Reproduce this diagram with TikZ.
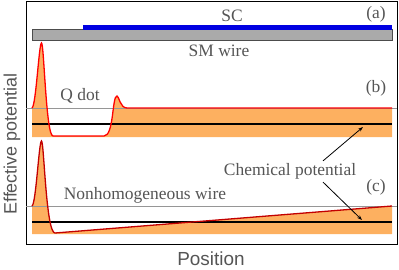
\documentclass[tikz,border=0pt]{standalone}
\usepackage{fontspec}
\setmainfont{Liberation Serif}
\setsansfont{Liberation Sans}
\usetikzlibrary{arrows.meta,positioning,calc}
\definecolor{cband}{RGB}{253,176,96}
\definecolor{csc}{RGB}{0,0,225}
\definecolor{cwire}{RGB}{170,170,170}
\definecolor{cpot}{RGB}{255,0,0}
\definecolor{cpotc}{RGB}{195,0,0}
\definecolor{ctext}{RGB}{85,85,85}
\definecolor{clevel}{RGB}{150,150,150}
% potential profiles, in pixel units
\newcommand{\qdotcurve}{(32,108) .. controls (36,106) and (39,43) .. (41.5,43)
  .. controls (44,43) and (46,136) .. (53,136) -- (104,136)
  .. controls (114,136) and (112,96) .. (117,96)
  .. controls (119,96) and (120,108) .. (127,108) -- (392,108)}
\newcommand{\inhomcurve}{(32,206) .. controls (36,204) and (39,141) .. (41.5,141)
  .. controls (44,141) and (46,233) .. (55,233) -- (392,206)}

\begin{document}
\begin{tikzpicture}[
  x=1bp,y=-1bp,
  >={Stealth[length=5pt,width=3.5pt]},
  lbl/.style={text=ctext,font=\fontsize{17.5}{20}\selectfont,inner sep=0pt},
  axlbl/.style={text=ctext,font=\sffamily\fontsize{19}{22}\selectfont,inner sep=0pt},
  level/.style={clevel,line width=0.8pt},
  mu/.style={black,line width=1.2pt},
  pot/.style={line width=1.3pt},
  arrow/.style={->,line width=0.8pt}
]
  \useasboundingbox (0,0) rectangle (399,270);
  \draw[line width=1pt] (26,1) rectangle (397,244);

  % (a) device
  \draw[fill=cwire,draw=black!70,line width=0.8pt] (32,29.5) rectangle (392,40);
  \fill[csc] (83,25) rectangle (392,29.5);
  \node[lbl] (sc) at (232,16) {SC};
  \node[lbl] (smwire) at (219,51) {SM wire};
  \node[lbl] (taga) at (376,14) {(a)};

  % (b) quantum dot
  \fill[cband] \qdotcurve -- (392,137) -- (32,137) -- cycle;
  \draw[level] (26,108) -- (397,108);
  \draw[mu] (32,124) -- (392,124);
  \draw[pot,cpot] \qdotcurve;
  \node[lbl] (qdot) at (80,96) {Q dot};
  \node[lbl] (tagb) at (376,88) {(b)};

  % (c) nonhomogeneous wire
  \fill[cband] \inhomcurve -- (392,234) -- (32,234) -- cycle;
  \draw[level] (26,206) -- (397,206);
  \draw[mu] (32,222) -- (392,222);
  \draw[pot,cpotc] \inhomcurve;
  \node[lbl] (inhom) at (145,195) {Nonhomogeneous wire};
  \node[lbl] (tagc) at (376,187) {(c)};

  % chemical potential
  \node[lbl] (chem) at (290,171) {Chemical potential};
  \coordinate (mub) at (363,127);
  \coordinate (muc) at (362,220);
  \draw[arrow] ([xshift=33bp,yshift=2bp]chem.north) -- (mub);
  \draw[arrow] ([xshift=33bp,yshift=-3bp]chem.south) -- (muc);

  % axes
  \node[axlbl,rotate=90,font=\sffamily\fontsize{18}{21}\selectfont] (ylab) at (12,144) {Effective potential};
  \node[axlbl] (xlab) at (211,259) {Position};
\end{tikzpicture}
\end{document}
